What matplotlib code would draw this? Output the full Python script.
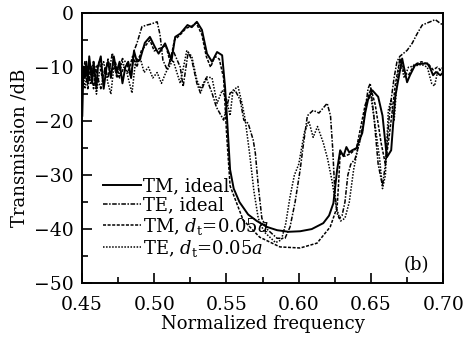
import numpy as np
import matplotlib
matplotlib.use('Agg')
import matplotlib.pyplot as plt
from matplotlib.ticker import MultipleLocator

plt.rcParams['font.family'] = 'DejaVu Serif'
plt.rcParams['mathtext.fontset'] = 'dejavuserif'

# TM, ideal (solid)
f_tm = [0.4502, 0.451, 0.452, 0.453, 0.454, 0.455, 0.457, 0.458, 0.460, 0.461,
        0.463, 0.465, 0.467, 0.468, 0.470, 0.472, 0.474, 0.476, 0.478, 0.480,
        0.482, 0.484, 0.486, 0.488, 0.490, 0.4935, 0.497, 0.5005, 0.503, 0.5075,
        0.512, 0.5145, 0.518, 0.523, 0.526, 0.5295, 0.533, 0.5365, 0.540, 0.5435,
        0.547, 0.549, 0.5505, 0.5525, 0.555, 0.559, 0.565, 0.571, 0.578, 0.585,
        0.593, 0.601, 0.609, 0.617, 0.621, 0.624, 0.6266, 0.6287, 0.631, 0.633,
        0.635, 0.637, 0.640, 0.642, 0.644, 0.646, 0.648, 0.651, 0.655, 0.658,
        0.661, 0.664, 0.6668, 0.6716, 0.675, 0.677, 0.6806, 0.684, 0.689, 0.691,
        0.693, 0.695, 0.698, 0.700]
T_tm = [-19, -10, -12, -9, -13, -8, -13, -9, -14, -10,
        -8, -14, -10, -9, -12, -8, -11, -9, -13, -10,
        -9, -12, -7, -9, -8.7, -5.5, -4.4, -6.3, -7.5, -5.6,
        -8.7, -4.4, -3.8, -2.2, -2.6, -1.6, -3.1, -7.5, -9, -7.2,
        -7.8, -13.6, -20, -29, -32.5, -35, -37.3, -38.5, -39.6, -40.2,
        -40.5, -40.4, -40.0, -38.9, -37.5, -35.2, -29, -25.4, -26.5, -24.8,
        -25.8, -25.4, -25.0, -23.5, -22.2, -18.5, -16, -14.3, -15.5, -19,
        -26.7, -25.4, -15.5, -8.4, -12.8, -11.5, -9.6, -9.4, -9.3, -10.2,
        -11.5, -10.9, -11.5, -11]

# TE, ideal (dash-dot)
f_te = [0.450, 0.452, 0.454, 0.456, 0.458, 0.461, 0.463, 0.466, 0.468, 0.471,
        0.474, 0.478, 0.481, 0.484, 0.486, 0.488, 0.4915, 0.495, 0.498, 0.502,
        0.504, 0.506, 0.509, 0.513, 0.518, 0.520, 0.5235, 0.526, 0.5295, 0.532,
        0.536, 0.540, 0.543, 0.548, 0.5525, 0.556, 0.5595, 0.562, 0.565, 0.5685,
        0.570, 0.572, 0.5745, 0.578, 0.585, 0.5905, 0.594, 0.5975, 0.601, 0.603,
        0.606, 0.610, 0.614, 0.6197, 0.622, 0.6235, 0.625, 0.6265, 0.628, 0.630,
        0.632, 0.634, 0.636, 0.639, 0.642, 0.645, 0.648, 0.6495, 0.652, 0.655,
        0.658, 0.660, 0.663, 0.666, 0.668, 0.670, 0.675, 0.6785, 0.682, 0.6855,
        0.691, 0.6945, 0.698, 0.700]
T_te = [-13, -10, -14, -11, -9, -12, -14, -10, -12, -7.4,
        -11.8, -8.4, -9.3, -12, -7, -5.6, -2.5, -2.2, -2.0, -1.6,
        -4, -8.7, -10.5, -6.9, -10, -13.6, -7.2, -8.7, -13, -14.8,
        -12, -14.8, -17.4, -19.8, -14.8, -14.3, -16.1, -19.8, -20.4, -23.5,
        -26, -32, -38, -40, -41.7, -41.7, -39.6, -35, -29, -24.8,
        -19, -18, -18.5, -16.7, -19, -25, -33, -37, -38, -37.5,
        -35, -30, -28, -27, -24, -20, -14, -13, -19, -28,
        -32, -28, -18, -12, -9, -8, -6.9, -5.6, -3.8, -2.2,
        -1.6, -1.2, -1.9, -2.2]

# TM, d_t = 0.05a (dashed)
f_tmd = [0.450, 0.452, 0.454, 0.456, 0.458, 0.460, 0.462, 0.464, 0.466, 0.468,
         0.470, 0.473, 0.476, 0.479, 0.482, 0.485, 0.488, 0.491, 0.494, 0.497,
         0.500, 0.504, 0.508, 0.511, 0.514, 0.518, 0.522, 0.526, 0.529, 0.533,
         0.536, 0.539, 0.542, 0.545, 0.548, 0.550, 0.5525, 0.5615, 0.573, 0.587,
         0.601, 0.6127, 0.6218, 0.6266, 0.6275, 0.6287, 0.632, 0.636, 0.640, 0.643,
         0.646, 0.650, 0.653, 0.657, 0.660, 0.663, 0.667, 0.670, 0.673, 0.676,
         0.680, 0.685, 0.690, 0.693, 0.696, 0.700]
T_tmd = [-12, -9, -12, -10, -14, -10, -9, -12, -11, -8.5,
         -11, -9, -12, -10, -11, -8, -10, -7, -6, -5,
         -7, -6.5, -6, -9, -5, -4, -2.8, -2.4, -1.8, -4,
         -8, -10, -8, -8.5, -12, -22, -32, -38.3, -41.5, -43.3,
         -43.5, -42.6, -39.6, -35.9, -32, -26, -26.5, -26, -25, -21,
         -17, -14, -17, -24, -28, -22, -13, -8.6, -11, -11.5,
         -9.5, -9, -9.5, -10.5, -10, -11]

# TE, d_t = 0.05a (dotted)
f_ted = [0.450, 0.452, 0.454, 0.456, 0.458, 0.460, 0.462, 0.465, 0.468, 0.470,
         0.472, 0.475, 0.478, 0.481, 0.4846, 0.487, 0.490, 0.493, 0.496, 0.499,
         0.502, 0.505, 0.508, 0.513, 0.518, 0.5225, 0.526, 0.5295, 0.532, 0.5365,
         0.540, 0.5435, 0.547, 0.550, 0.5525, 0.5545, 0.558, 0.561, 0.563, 0.566,
         0.569, 0.572, 0.576, 0.580, 0.584, 0.588, 0.591, 0.594, 0.597, 0.600,
         0.604, 0.607, 0.610, 0.613, 0.617, 0.620, 0.623, 0.626, 0.629, 0.632,
         0.635, 0.638, 0.641, 0.644, 0.647, 0.650, 0.653, 0.656, 0.658, 0.660,
         0.662, 0.664, 0.666, 0.668, 0.670, 0.673, 0.676, 0.680, 0.685, 0.689,
         0.692, 0.694, 0.696, 0.700]
T_ted = [-9, -14, -10, -13, -11, -15, -11, -9, -13, -15,
         -10, -12, -9, -11, -14.8, -9, -8, -11, -10, -12,
         -11, -13, -11, -8.7, -13, -7, -8, -12.4, -14, -11.8,
         -12, -16.7, -14.3, -16, -19, -14.3, -13.6, -17, -19.8, -26,
         -33, -38, -40.5, -41.5, -42.5, -42, -39, -34, -30, -28,
         -22, -20, -23, -21, -24, -27, -31, -36, -38.5, -38,
         -35, -29, -25, -22, -16, -15.5, -21, -27, -32.5, -30,
         -18, -16, -20, -13, -8.5, -12, -10, -9.8, -9.5, -10,
         -13, -13.5, -11, -10]

fig = plt.figure(figsize=(4.74, 3.37), dpi=100)
ax = fig.add_axes([0.173, 0.160, 0.762, 0.801])

ax.plot(f_tm, T_tm, color='black', lw=1.4, ls='-', label='TM, ideal')
ax.plot(f_te, T_te, color='black', lw=1.1, ls=(0, (3, 1, 1, 1)), label='TE, ideal')
ax.plot(f_tmd, T_tmd, color='black', lw=1.1, ls=(0, (2, 1)), label=r'TM, $d_{\rm t}$=0.05$a$')
ax.plot(f_ted, T_ted, color='black', lw=1.1, ls=(0, (1, 1)), label=r'TE, $d_{\rm t}$=0.05$a$')

ax.set_xlim(0.45, 0.70)
ax.set_ylim(-50, 0)
ax.xaxis.set_major_locator(MultipleLocator(0.05))
ax.xaxis.set_minor_locator(MultipleLocator(0.025))
ax.yaxis.set_major_locator(MultipleLocator(10))
ax.yaxis.set_minor_locator(MultipleLocator(5))
ax.set_xticks([0.45, 0.50, 0.55, 0.60, 0.65, 0.70])
ax.set_xticklabels(['0.45', '0.50', '0.55', '0.60', '0.65', '0.70'])
ax.set_yticks([-50, -40, -30, -20, -10, 0])
ax.set_yticklabels(['\u221250', '\u221240', '\u221230', '\u221220', '\u221210', '0'])
ax.tick_params(which='major', direction='in', length=7, width=1.2, labelsize=13.5, pad=6)
ax.tick_params(axis='x', which='major', pad=9)
ax.tick_params(which='minor', direction='in', length=4, width=1.2)
for s in ax.spines.values():
    s.set_linewidth(1.4)

ax.set_xlabel('Normalized frequency', fontsize=13, labelpad=1)
ax.set_ylabel('Transmission /dB', fontsize=13, labelpad=4)
ax.text(0.89, 0.05, '(b)', transform=ax.transAxes, fontsize=13)

ax.legend(loc='upper left', bbox_to_anchor=(0.058, 0.39), frameon=False,
          fontsize=13, handlelength=2.1, handletextpad=0.1,
          labelspacing=0.05, borderaxespad=0, borderpad=0)

fig.savefig('out.png', dpi=100)
